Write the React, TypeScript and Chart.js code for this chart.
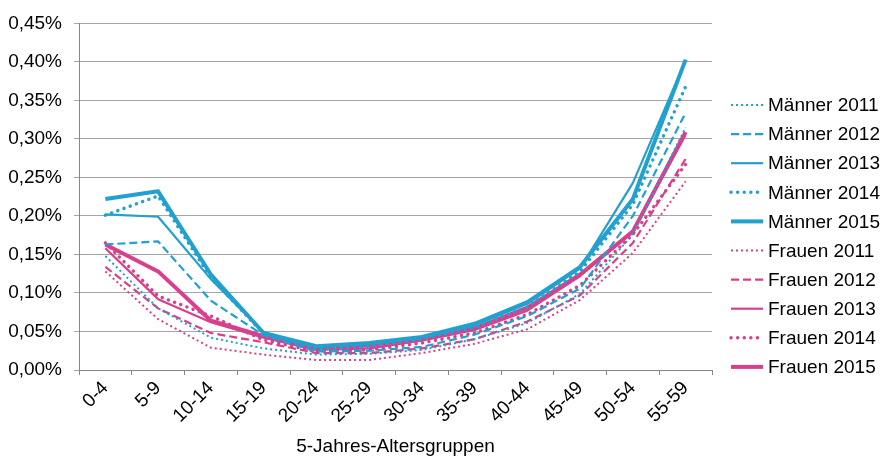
import React, { useEffect, useRef } from 'react';
import { Chart, registerables } from 'chart.js';

Chart.register(...registerables);

const categories = ['0-4', '5-9', '10-14', '15-19', '20-24', '25-29', '30-34', '35-39', '40-44', '45-49', '50-54', '55-59'];

const maenner2011 = [0.148, 0.080, 0.042, 0.028, 0.020, 0.021, 0.026, 0.040, 0.061, 0.099, 0.176, 0.315];
const maenner2012 = [0.163, 0.167, 0.090, 0.045, 0.024, 0.025, 0.030, 0.046, 0.070, 0.106, 0.200, 0.334];
const maenner2013 = [0.202, 0.199, 0.118, 0.049, 0.030, 0.034, 0.042, 0.058, 0.086, 0.132, 0.243, 0.402];
const maenner2014 = [0.201, 0.226, 0.120, 0.047, 0.027, 0.031, 0.040, 0.055, 0.082, 0.128, 0.215, 0.368];
const maenner2015 = [0.222, 0.232, 0.124, 0.048, 0.031, 0.035, 0.043, 0.060, 0.088, 0.134, 0.222, 0.403];
const frauen2011 = [0.128, 0.066, 0.029, 0.020, 0.013, 0.013, 0.022, 0.034, 0.053, 0.091, 0.152, 0.245];
const frauen2012 = [0.134, 0.080, 0.048, 0.036, 0.022, 0.022, 0.028, 0.040, 0.063, 0.097, 0.165, 0.274];
const frauen2013 = [0.158, 0.092, 0.062, 0.042, 0.026, 0.028, 0.038, 0.052, 0.077, 0.122, 0.180, 0.305];
const frauen2014 = [0.165, 0.096, 0.070, 0.039, 0.024, 0.026, 0.035, 0.048, 0.072, 0.110, 0.176, 0.267];
const frauen2015 = [0.163, 0.128, 0.064, 0.044, 0.028, 0.032, 0.041, 0.054, 0.081, 0.124, 0.180, 0.309];

const yMin = 0;
const yMax = 0.45;
const yStep = 0.05;
const xTitle = '5-Jahres-Altersgruppen';

const BLUE = '#22A0CF';
const PINK = '#D93F8B';
const FONT = '"Liberation Sans", Arial, sans-serif';

const styles = {
  y2011: { borderWidth: 2, borderDash: [2, 3], borderCapStyle: 'butt' },
  y2012: { borderWidth: 2.2, borderDash: [8, 4], borderCapStyle: 'butt' },
  y2013: { borderWidth: 2.2, borderDash: [], borderCapStyle: 'butt' },
  y2014: { borderWidth: 3.4, borderDash: [0.1, 6.5], borderCapStyle: 'round' },
  y2015: { borderWidth: 4, borderDash: [], borderCapStyle: 'butt' },
};

const sideLegend = {
  id: 'sideLegend',
  afterDraw(chart: any) {
    const ctx = chart.ctx;
    const area = chart.chartArea;
    const x0 = area.right + 19;
    const x1 = x0 + 32;
    const tx = x1 + 5;
    const y0 = 105;
    const dy = 29.1;
    chart.data.datasets.forEach((ds: any, i: number) => {
      const y = y0 + i * dy;
      ctx.save();
      ctx.strokeStyle = ds.borderColor;
      ctx.lineWidth = ds.borderWidth;
      ctx.setLineDash(ds.borderDash || []);
      ctx.lineCap = ds.borderCapStyle || 'butt';
      ctx.beginPath();
      ctx.moveTo(x0, y);
      ctx.lineTo(x1, y);
      ctx.stroke();
      ctx.setLineDash([]);
      ctx.fillStyle = '#000';
      ctx.font = `19px ${FONT}`;
      ctx.textBaseline = 'middle';
      ctx.textAlign = 'left';
      ctx.fillText(ds.label, tx, y + 1);
      ctx.restore();
    });
  },
};

function ds(label: string, data: number[], color: string, style: any) {
  return {
    label,
    data,
    borderColor: color,
    backgroundColor: color,
    fill: false,
    tension: 0,
    pointRadius: 0,
    pointHoverRadius: 0,
    borderJoinStyle: 'round',
    ...style,
  };
}

export default function App() {
  const ref = useRef<HTMLCanvasElement | null>(null);

  useEffect(() => {
    if (!ref.current) return;
    const chart = new Chart(ref.current, {
      type: 'line',
      data: {
        labels: categories,
        datasets: [
          ds('Männer 2011', maenner2011, BLUE, styles.y2011),
          ds('Männer 2012', maenner2012, BLUE, styles.y2012),
          ds('Männer 2013', maenner2013, BLUE, styles.y2013),
          ds('Männer 2014', maenner2014, BLUE, styles.y2014),
          ds('Männer 2015', maenner2015, BLUE, styles.y2015),
          ds('Frauen 2011', frauen2011, PINK, styles.y2011),
          ds('Frauen 2012', frauen2012, PINK, styles.y2012),
          ds('Frauen 2013', frauen2013, PINK, styles.y2013),
          ds('Frauen 2014', frauen2014, PINK, styles.y2014),
          ds('Frauen 2015', frauen2015, PINK, styles.y2015),
        ],
      } as any,
      options: {
        animation: false,
        responsive: true,
        maintainAspectRatio: false,
        layout: { padding: { top: 15, right: 176, left: 0, bottom: 0 } },
        plugins: {
          legend: { display: false },
          tooltip: { enabled: false },
        },
        scales: {
          x: {
            type: 'category',
            offset: true,
            grid: {
              offset: true,
              drawOnChartArea: false,
              drawTicks: true,
              tickLength: 5,
              color: '#868686',
            },
            border: { color: '#868686', width: 1 },
            ticks: {
              minRotation: 45,
              maxRotation: 45,
              autoSkip: false,
              color: '#000',
              padding: 2,
              font: { family: FONT, size: 19 },
            },
            title: {
              display: true,
              text: xTitle,
              color: '#000',
              font: { family: FONT, size: 19 },
              padding: { top: 2, bottom: 3 },
            },
            afterFit: (scale: any) => {
              scale.height = 91;
            },
          },
          y: {
            min: yMin,
            max: yMax,
            ticks: {
              stepSize: yStep,
              color: '#000',
              padding: 12,
              font: { family: FONT, size: 19 },
              callback: (v: any) => Number(v).toFixed(2).replace('.', ',') + '%',
            },
            grid: {
              color: '#A6A6A6',
              lineWidth: 1,
              tickLength: 5,
            },
            border: { color: '#868686', width: 1 },
            afterFit: (scale: any) => {
              scale.width = 79;
            },
          },
        },
      } as any,
      plugins: [sideLegend],
    });
    return () => chart.destroy();
  }, []);

  return (
    <div style={{ position: 'absolute', left: 0, top: 0, width: 888, height: 461, background: '#fff' }}>
      <canvas ref={ref} />
    </div>
  );
}
